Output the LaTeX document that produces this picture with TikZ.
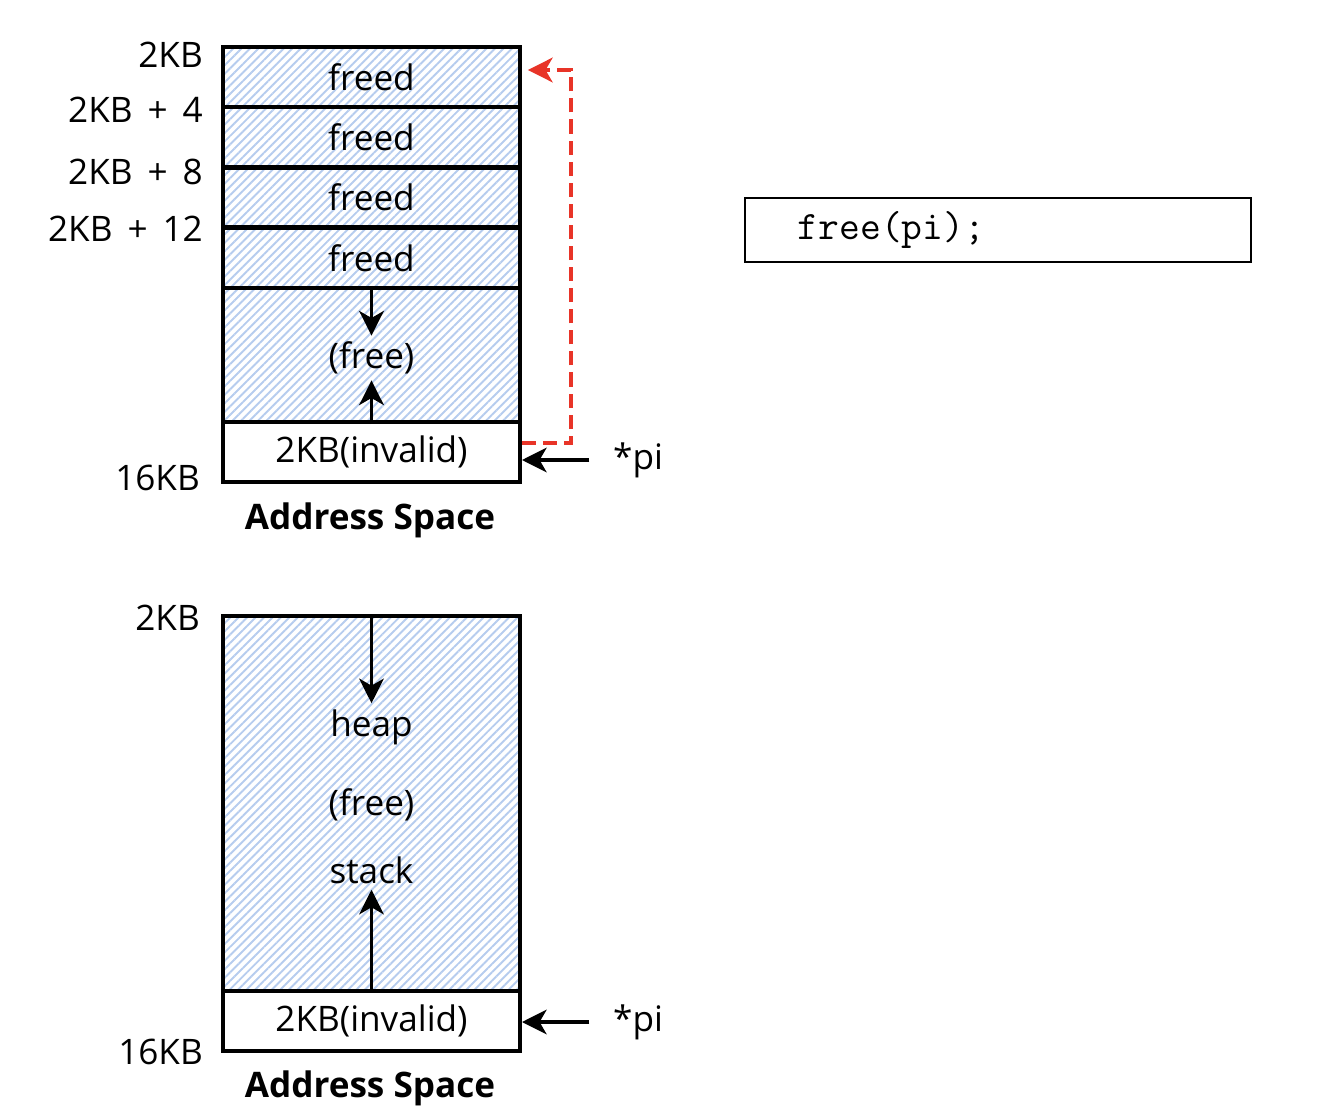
\documentclass[tikz,border=0pt]{standalone}
\usepackage{fontspec}
\setmainfont{Open Sans}
\usetikzlibrary{arrows.meta,patterns.meta}
\definecolor{hatchblue}{RGB}{182,204,238}
\definecolor{ptrred}{RGB}{232,52,40}
\begin{document}
\begin{tikzpicture}[x=0.02cm,y=-0.02cm,
	every node/.style={font=\fontsize{20}{24}\selectfont},
	cell/.style={draw,line width=2.3pt,minimum width=5.94cm,inner sep=0pt,
		pattern={Lines[angle=45,distance=3.4pt,line width=1.1pt]},pattern color=hatchblue},
	plain/.style={draw,line width=2.3pt,minimum width=5.94cm,minimum height=1.2cm,inner sep=0pt,fill=white},
	addr/.style={anchor=east},
	growarrow/.style={line width=2pt,-{Stealth[length=14pt,width=14pt,inset=4pt]}},
	redptr/.style={ptrred,line width=2.2pt,dash pattern=on 8pt off 4pt,-{Stealth[length=14pt,width=14pt,inset=4pt]}},
	title/.style={font=\fontsize{20}{24}\selectfont\bfseries},
	codebox/.style={draw,line width=1.1pt,minimum width=10.12cm,minimum height=1.28cm}]
\useasboundingbox (0,0) rectangle (1342,1118);
\foreach \y [count=\i] in {79,139,199.5,260}
	\node[cell,minimum height=1.2cm] (f\i) at (371.5,\y-2) {freed};
\node[cell,minimum height=2.68cm] (gap) at (371.5,355) {};
\node (gaptxt) at (371.5,358) {(free)};
\node[plain] (bad) at (371.5,452) {2KB(invalid)};
\draw[growarrow] (gap.north) -- (gaptxt.north);
\draw[growarrow] (gap.south) -- (gaptxt.south);
\node[addr] (a0) at (209,55) {2KB};
\node[addr] (a4) at (209,110) {2KB \,+\, 4};
\node[addr] (a8) at (209,172) {2KB \,+\, 8};
\node[addr] (a12) at (209,229) {2KB \,+\, 12};
\node[addr] (aend) at (206,478) {16KB};
\node[title] (t1) at (370,520) {Address Space};
\draw[redptr] ([yshift=0.18cm]bad.east) -| ([xshift=1cm,yshift=0.14cm]f1.east) -- ([xshift=0.14cm,yshift=0.14cm]f1.east);
\node[anchor=west] (pi1) at (607,460) {*pi};
\draw[growarrow] ([xshift=-10pt]pi1.west) -- (pi1.west -| bad.east);
\node[codebox] (code) at (998,230) {};
\node[anchor=west,font=\ttfamily\fontsize{23}{26}\selectfont] (codetxt) at ([xshift=0.95cm]code.west) {free(pi);};
\node[cell,minimum height=7.5cm] (mem) at (371.5,803.5) {};
\node (heap) at (371.5,727) {heap};
\node (freetxt) at (371.5,805) {(free)};
\node (stack) at (371.5,870) {stack};
\node[plain] (bad2) at (371.5,1021) {2KB(invalid)};
\draw[growarrow] (mem.north) -- (heap.north);
\draw[growarrow] (mem.south) -- (stack.south);
\node[addr] (b0) at (206,618) {2KB};
\node[addr] (bend) at (209,1052) {16KB};
\node[title] (t2) at (370,1088) {Address Space};
\node[anchor=west] (pi2) at (607,1022) {*pi};
\draw[growarrow] ([xshift=-10pt]pi2.west) -- (pi2.west -| bad2.east);
\end{tikzpicture}
\end{document}
